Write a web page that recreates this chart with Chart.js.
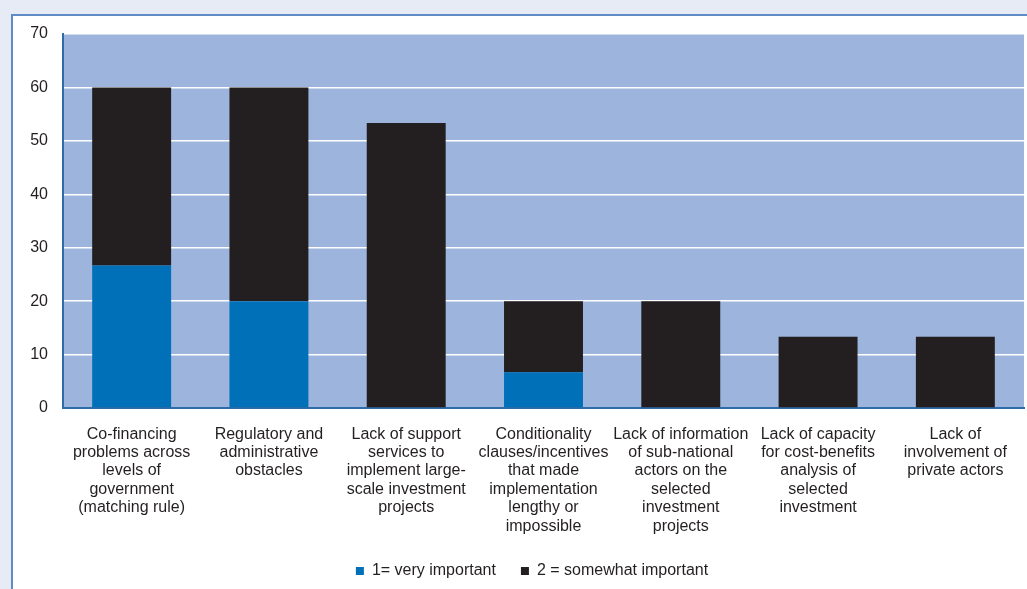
<!DOCTYPE html>
<html>
<head>
<meta charset="utf-8">
<script src="https://cdn.jsdelivr.net/npm/chart.js@4"></script>
<style>
  html, body { margin: 0; padding: 0; width: 1027px; height: 589px; overflow: hidden; background: #e6ebf5; }
  #panel { position: absolute; left: 11px; top: 14px; width: 1030px; height: 600px; background: #ffffff; border: 2px solid #5f8cc5; box-sizing: border-box; }
  #c { position: absolute; left: 0; top: 0; }
</style>
</head>
<body>
<div id="panel"></div>
<canvas id="c" width="1027" height="589"></canvas>
<script>
const categories = [
  ["Co-financing", "problems across", "levels of", "government", "(matching rule)"],
  ["Regulatory and", "administrative", "obstacles"],
  ["Lack of support", "services to", "implement large-", "scale investment", "projects"],
  ["Conditionality", "clauses/incentives", "that made", "implementation", "lengthy or", "impossible"],
  ["Lack of information", "of sub-national", "actors on the", "selected", "investment", "projects"],
  ["Lack of capacity", "for cost-benefits", "analysis of", "selected", "investment"],
  ["Lack of", "involvement of", "private actors"]
];
const seriesNames = ["1= very important", "2 = somewhat important"];
const veryImportant = [26.67, 20, 0, 6.67, 0, 0, 0];
const somewhatImportant = [33.33, 40, 53.33, 13.33, 20, 13.33, 13.33];
const yTicks = [0, 10, 20, 30, 40, 50, 60, 70];

const plotBg = {
  id: 'plotBg',
  beforeDraw(chart) {
    const a = chart.chartArea, ctx = chart.ctx;
    ctx.save();
    ctx.fillStyle = '#9db4dc';
    ctx.fillRect(a.left, a.top, a.right - a.left, a.bottom - a.top);
    ctx.restore();
  }
};

// nudge legend box to its place in the reference (right of centre)
const legendShift = {
  id: 'legendShift',
  afterLayout(chart) {
    const lg = chart.legend;
    if (!lg) return;
    lg.left += 20; lg.right += 20;
  }
};

const textColor = '#231f20';
const font = { family: "'Liberation Sans', Arial, sans-serif", size: 16 };
const xFont = { family: "'Liberation Sans', Arial, sans-serif", size: 16, lineHeight: 1.15 };

new Chart(document.getElementById('c'), {
  type: 'bar',
  data: {
    labels: categories,
    datasets: [
      { label: seriesNames[0], data: veryImportant, backgroundColor: '#0070b8', barPercentage: 0.575, categoryPercentage: 1 },
      { label: seriesNames[1], data: somewhatImportant, backgroundColor: '#231f20', barPercentage: 0.575, categoryPercentage: 1 }
    ]
  },
  options: {
    responsive: false,
    devicePixelRatio: 1,
    animation: false,
    layout: { padding: { top: 34, right: 3, left: 0, bottom: 0 } },
    plugins: {
      tooltip: { enabled: false },
      legend: {
        position: 'bottom',
        labels: { boxWidth: 8, boxHeight: 8, color: textColor, font: font, padding: 25 }
      }
    },
    scales: {
      x: {
        stacked: true,
        grid: { display: false, drawTicks: false },
        border: { color: '#2e6ba9', width: 2 },
        ticks: { color: textColor, font: xFont, padding: 17, autoSkip: false, maxRotation: 0, minRotation: 0 },
        afterFit: s => { s.height = 130; }
      },
      y: {
        stacked: true,
        min: 0, max: 70,
        afterBuildTicks: s => { s.ticks = yTicks.map(v => ({ value: v })); },
        grid: { color: '#ffffff', lineWidth: 1.5, drawTicks: false },
        border: { color: '#2e6ba9', width: 2 },
        ticks: { color: textColor, font: font, padding: 15 },
        afterFit: s => { s.width = 63; }
      }
    }
  },
  plugins: [plotBg, legendShift]
});
</script>
</body>
</html>
